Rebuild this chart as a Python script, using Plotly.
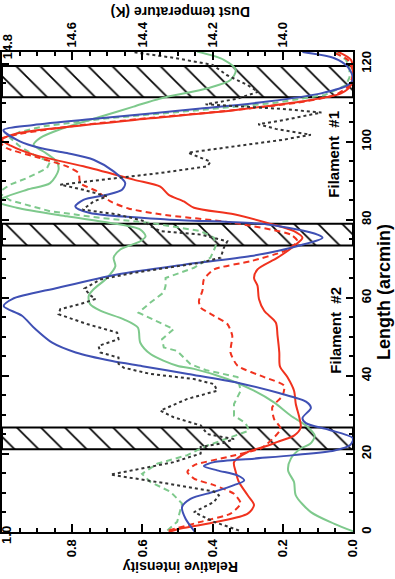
import plotly.graph_objects as go

# masked strips along the cut (arcmin), drawn hatched
mask_start = [21.2, 73.4, 111.4]
mask_end = [26.8, 79.0, 119.4]

# relative intensity profiles along the cut
blue_len = [0, 3.4, 6.4, 8.5, 10.3, 12, 13.2, 14.5, 15.8, 16.9, 17.9, 18.8, 19.7, 20.9, 22.3, 24,
            26.2, 27.9, 29.2, 31.8, 33.4, 35.6, 38.2, 40.5, 42.5, 43.8, 46, 48.5, 52, 55.4, 57.9,
            59.7, 62.6, 66, 68.5, 70.7, 73.5, 75.4, 76.2, 78.8, 80.1, 81.8, 83.4, 85.1, 86.4, 87.7,
            89.4, 92.4, 95.4, 97.1, 98.4, 100.1, 103, 104.3, 106, 108.5, 110.3, 112.4, 114.5, 116.2,
            119.2, 121.4, 123]
blue_int = [0.45, 0.477, 0.487, 0.463, 0.396, 0.339, 0.31, 0.329, 0.387, 0.425, 0.396, 0.282, 0.168,
            0.053, 0.008, 0.0, 0.069, 0.134, 0.144, 0.12, 0.134, 0.211, 0.326, 0.47, 0.6, 0.686, 0.79,
            0.857, 0.905, 0.943, 0.995, 0.971, 0.84, 0.672, 0.482, 0.291, 0.149, 0.087, 0.101, 0.244,
            0.53, 0.752, 0.791, 0.768, 0.701, 0.658, 0.649, 0.682, 0.739, 0.815, 0.891, 0.949, 0.996,
            0.91, 0.72, 0.434, 0.244, 0.091, 0.015, 0.0, 0.015, 0.053, 0.144]

red_len = [0, 0.9, 2.6, 4.7, 6.9, 9.4, 12.8, 15.4, 17.9, 20.5, 22.1, 23.1, 24.7, 26.8, 29.4, 32.8,
           36.2, 39.7, 42.4, 46, 50.3, 53.7, 56.7, 59.7, 63.1, 65.1, 67.3, 70.3, 73.3, 75.4, 77.1,
           79.2, 81.4, 83.1, 84.7, 86.4, 88.5, 90.3, 93.7, 96.7, 99, 100.5, 102.1, 103.8, 106, 108.1,
           110.3, 112.4, 114.5, 118, 121, 123.1]
red_int = [0.525, 0.491, 0.387, 0.30, 0.282, 0.30, 0.325, 0.334, 0.339, 0.30, 0.244, 0.215, 0.168,
           0.149, 0.153, 0.163, 0.168, 0.187, 0.208, 0.21, 0.215, 0.22, 0.253, 0.268, 0.272, 0.282,
           0.272, 0.215, 0.168, 0.144, 0.168, 0.244, 0.339, 0.453, 0.482, 0.525, 0.549, 0.625, 0.768,
           0.91, 0.975, 1.0, 0.958, 0.815, 0.577, 0.339, 0.149, 0.034, 0.006, 0.0, 0.006, 0.044]

red_dash_len = [0.4, 2.6, 4.7, 7.3, 9.8, 12, 13.7, 15.4, 17.1, 19.2, 21.4, 22.6, 26.4, 29, 32, 34.9,
                37.5, 39.7, 42.6, 46, 50.3, 53.3, 55.4, 57.5, 59.2, 61.8, 64.7, 67.3, 69.4, 72, 74.5,
                76.2, 79.2, 81.4, 82.9, 84.7, 87.3, 89.4, 92, 93.7, 95.8, 98.4, 100.5, 102, 104, 106,
                108, 110, 112, 114.5, 118, 121, 123]
red_dash_int = [0.525, 0.434, 0.349, 0.32, 0.339, 0.396, 0.453, 0.472, 0.453, 0.358, 0.263, 0.244,
                0.206, 0.225, 0.23, 0.201, 0.196, 0.253, 0.329, 0.349, 0.344, 0.358, 0.396, 0.434,
                0.439, 0.429, 0.425, 0.396, 0.291, 0.196, 0.158, 0.177, 0.339, 0.549, 0.64, 0.691,
                0.729, 0.777, 0.782, 0.815, 0.891, 0.987, 1.01, 0.95, 0.8, 0.59, 0.35, 0.16, 0.05,
                0.01, 0.0, 0.015, 0.06]

green_len = [0.2, 2.1, 5.1, 9.4, 12.8, 15.8, 18.8, 21.4, 22.6, 24.7, 27.3, 29.8, 33.2, 36.2, 39.2,
             41.8, 42.6, 45.6, 48.5, 52.4, 54.5, 56.7, 58.4, 60.5, 62.2, 65.1, 68.1, 70.3, 72.4, 74.5,
             75.8, 77.5, 79.2, 80.9, 83.1, 84.5, 85.6, 87.7, 89.4, 92.8, 94.9, 97.5, 99.2, 101, 103.2,
             106.4, 109, 111.1, 113.7, 115.8, 118.4, 121, 123.1]
green_int = [0.0, 0.053, 0.12, 0.163, 0.168, 0.185, 0.177, 0.149, 0.122, 0.109, 0.134, 0.177, 0.225,
             0.282, 0.358, 0.453, 0.501, 0.577, 0.606, 0.613, 0.653, 0.72, 0.749, 0.753, 0.739, 0.701,
             0.677, 0.682, 0.663, 0.606, 0.591, 0.606, 0.691, 0.815, 0.958, 1.01, 0.996, 0.929, 0.863,
             0.839, 0.844, 0.882, 0.91, 0.891, 0.834, 0.72, 0.625, 0.549, 0.415, 0.349, 0.334, 0.368,
             0.444]

green_dash_len = [0.4, 2.6, 7.3, 10.3, 12.8, 14.9, 17.5, 19.7, 21.8, 23.6, 26, 27.9, 29.8, 32.8, 36.2,
                  39.7, 41.5, 43, 46.4, 47.3, 49.4, 52, 54.5, 56.2, 58.8, 61.4, 63.1, 65.1, 67.7, 70.3,
                  73.3, 75.4, 77.1, 79.2, 80.5, 82.2, 85, 87, 89, 90.7, 93.2, 94.9, 96.2, 98.8, 101,
                  102.5, 104, 106, 108, 110, 112, 114.5, 116.5, 119, 121, 123]
green_dash_int = [0.529, 0.501, 0.487, 0.52, 0.577, 0.601, 0.558, 0.472, 0.425, 0.372, 0.296, 0.306,
                  0.339, 0.339, 0.32, 0.329, 0.42, 0.463, 0.501, 0.539, 0.544, 0.511, 0.568, 0.611,
                  0.577, 0.539, 0.534, 0.534, 0.453, 0.406, 0.391, 0.396, 0.434, 0.577, 0.72, 0.863,
                  0.977, 1.01, 0.977, 0.929, 0.872, 0.863, 0.901, 0.949, 0.977, 0.95, 0.88, 0.7, 0.45,
                  0.22, 0.08, 0.02, 0.01, 0.01, 0.02, 0.05]

# dust temperature (K), dotted black, right-hand (now top) axis
temp_len = [0.4, 2.6, 5.1, 7.7, 9.4, 10.4, 12.4, 14.7, 16.2, 17.9, 20.1, 21.8, 22.8, 23.8, 25.1, 27.3,
            29.4, 31.1, 34.1, 36.2, 37.9, 39.2, 40.5, 42.1, 43.1, 44.7, 46, 47.7, 49.4, 51.1, 53.3,
            55.8, 57.1, 58.4, 59.7, 60.7, 62.4, 64.7, 66.4, 67.7, 69, 70.3, 72.8, 74.5, 76.2, 77.1,
            78.4, 79.7, 81.4, 82.6, 84.7, 86, 87.7, 89, 90.7, 92, 93.7, 94.9, 97.2, 98.8, 100.5,
            101.8, 103.3, 104.5, 105.5, 107.5, 108.4, 109.6, 111, 112.8, 114.5, 117.1, 119.7, 121.5,
            123]
temp_k = [14.125, 14.196, 14.253, 14.196, 14.182, 14.196, 14.329, 14.491, 14.406, 14.311, 14.234,
          14.234, 14.17, 14.139, 14.215, 14.234, 14.311, 14.349, 14.272, 14.187, 14.196, 14.253,
          14.377, 14.453, 14.468, 14.468, 14.52, 14.525, 14.468, 14.472, 14.558, 14.639, 14.634,
          14.577, 14.534, 14.549, 14.565, 14.52, 14.425, 14.329, 14.234, 14.177, 14.168, 14.158,
          14.234, 14.349, 14.377, 14.396, 14.472, 14.57, 14.539, 14.501, 14.568, 14.634, 14.472,
          14.349, 14.215, 14.206, 14.27, 14.14, 14.0, 13.92, 14.02, 14.07, 14.0, 13.89, 14.0, 14.22,
          14.13, 14.07, 14.10, 14.16, 14.20, 14.31, 14.43]

# tick labels
int_ticks = [0.0, 0.2, 0.4, 0.6, 0.8, 1.0]
temp_ticks = [14.0, 14.2, 14.4, 14.6, 14.8]

BLUE = '#3f50b4'
RED = '#f0321e'
GREEN = '#7ec98c'
FONT = 'Liberation Sans'

fig = go.Figure()

# hatched masks
fig.add_trace(go.Bar(
    orientation='h',
    y=[(a + b) / 2 for a, b in zip(mask_start, mask_end)],
    width=[b - a for a, b in zip(mask_start, mask_end)],
    x=[1.0] * len(mask_start), base=[0.0] * len(mask_start),
    marker=dict(color='black', line=dict(color='black', width=2),
                pattern=dict(shape='\\', size=17, solidity=0.1, fillmode='replace')),
    hoverinfo='skip'))

fig.add_trace(go.Scatter(x=green_int, y=green_len, mode='lines',
                         line=dict(color=GREEN, width=2, shape='spline', smoothing=0.8)))
fig.add_trace(go.Scatter(x=green_dash_int, y=green_dash_len, mode='lines',
                         line=dict(color=GREEN, width=2, dash='6px,4px')))
fig.add_trace(go.Scatter(x=red_int, y=red_len, mode='lines',
                         line=dict(color=RED, width=2, shape='spline', smoothing=0.8)))
fig.add_trace(go.Scatter(x=red_dash_int, y=red_dash_len, mode='lines',
                         line=dict(color=RED, width=2, dash='6px,4px', shape='spline', smoothing=0.6)))
fig.add_trace(go.Scatter(x=blue_int, y=blue_len, mode='lines',
                         line=dict(color=BLUE, width=2, shape='spline', smoothing=0.8)))
fig.add_trace(go.Scatter(x=temp_k, y=temp_len, mode='lines', xaxis='x2',
                         line=dict(color='#333333', width=2, dash='dot')))

tick_font = dict(family=FONT, size=13, color='black', weight='bold')
label_font = dict(family=FONT, color='black', weight='bold')
tick_common = dict(ticks='inside', tickcolor='black', tickwidth=1.5, showline=True,
                   linecolor='black', linewidth=2, showgrid=False, zeroline=False,
                   tickangle=-90, automargin=False, tickfont=tick_font)

# trailing no-break spaces push the rotated title a little towards the bottom, as in the original
length_title = 'Length (arcmin)' + '\u00a0' * 6

fig.update_layout(
    width=395, height=579,
    margin=dict(l=2, r=42, t=52, b=47),
    plot_bgcolor='white', paper_bgcolor='white',
    showlegend=False,
    xaxis=dict(range=[1.0, 0.0], tickvals=int_ticks[:-1],
               ticktext=['%.1f' % v for v in int_ticks[:-1]], ticklen=8,
               minor=dict(tickmode='linear', tick0=0, dtick=0.05, ticks='inside', ticklen=4,
                          tickwidth=1.5, tickcolor='black'),
               **tick_common),
    xaxis2=dict(overlaying='x', side='top', anchor='y', range=[14.8, 13.8],
                tickvals=temp_ticks[:-1], ticktext=['%.1f' % v for v in temp_ticks[:-1]],
                ticklen=8,
                minor=dict(tickmode='linear', tick0=13.8, dtick=0.05, ticks='inside', ticklen=4,
                           tickwidth=1.5, tickcolor='black'),
                **tick_common),
    yaxis=dict(range=[0, 123], side='right', dtick=20, ticklen=7, mirror='ticks',
               title=dict(text=length_title, font=dict(size=18, **label_font), standoff=4),
               minor=dict(dtick=5, ticks='inside', ticklen=4, tickwidth=1.5, tickcolor='black'),
               **tick_common),
)

# the outermost labels sit on the frame edge, so they are nudged inwards as annotations
fig.add_annotation(text='%.1f' % int_ticks[-1], x=int_ticks[-1], xref='x', yref='paper',
                   y=-0.029, xshift=5, showarrow=False, textangle=-90, font=tick_font)
fig.add_annotation(text='%.1f' % temp_ticks[-1], x=temp_ticks[-1], xref='x2', yref='paper',
                   y=1.04, xshift=5, showarrow=False, textangle=-90, font=tick_font)

fig.add_annotation(text='Relative intensity', xref='paper', yref='paper', x=0.507, y=-0.094,
                   showarrow=False, textangle=180, font=dict(size=14, **label_font))
fig.add_annotation(text='Dust temperature (K)', xref='paper', yref='paper', x=0.507, y=1.104,
                   showarrow=False, textangle=180, font=dict(size=14, **label_font))
fig.add_annotation(text='Filament  #1', x=0.054, y=96.7, showarrow=False, textangle=-90,
                   font=dict(size=15, **label_font))
fig.add_annotation(text='Filament  #2', x=0.049, y=51.8, showarrow=False, textangle=-90,
                   font=dict(size=15, **label_font))

# the page body has a default margin; drop it so the figure sits at the window corner
fig.write_html("out.html", config={'displayModeBar': False},
               post_script="document.body.style.margin='0';")
